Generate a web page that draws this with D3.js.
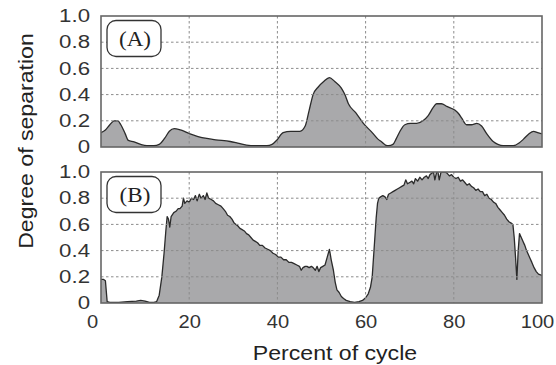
<!DOCTYPE html>
<html>
<head>
<meta charset="utf-8">
<script src="https://cdn.jsdelivr.net/npm/d3@7/dist/d3.min.js"></script>
<style>
  html, body { margin: 0; padding: 0; background: #fff; }
  svg { display: block; }
</style>
</head>
<body>
<svg id="chart" width="556" height="365"></svg>
<script>
// Percent of gait cycle and degree of separation, panel (A)
const cycleA = [0, 1, 2, 3, 3.8, 4.5, 5.5, 6.2, 7.5, 9, 10.4, 12, 13.2, 14.5, 15.5, 16.6, 18, 20.2, 22, 24,
  26, 29.3, 31, 33, 35, 37.6, 38.8, 39.8, 41.3, 43, 45.1, 46.3, 47.2, 48.1, 49.3, 50.5, 51.8, 53, 54.5, 55.3,
  56.1, 57.8, 59.5, 61.5, 62.8, 63.6, 64.5, 65.2, 66.2, 66.9, 67.8, 68.9, 70.2, 71.6, 73, 74.2, 75.3, 76.1, 77.2, 78.4,
  80.3, 81.2, 81.8, 82.9, 84, 85.2, 86.3, 87.5, 89, 90, 91.2, 93.5, 94.8, 95.8, 97, 98.1, 99, 100];
const separationA = [0.11, 0.13, 0.17, 0.20, 0.20, 0.17, 0.10, 0.05, 0.04, 0.02, 0.01, 0.01, 0.02, 0.07, 0.12, 0.14, 0.13, 0.10, 0.08, 0.065,
  0.055, 0.042, 0.03, 0.015, 0.01, 0.01, 0.02, 0.05, 0.11, 0.12, 0.12, 0.16, 0.28, 0.40, 0.46, 0.50, 0.53, 0.50, 0.45, 0.40,
  0.33, 0.26, 0.18, 0.11, 0.06, 0.04, 0.015, 0.01, 0.02, 0.06, 0.12, 0.17, 0.18, 0.18, 0.20, 0.24, 0.30, 0.33, 0.33, 0.31,
  0.28, 0.25, 0.22, 0.17, 0.17, 0.18, 0.16, 0.10, 0.04, 0.02, 0.01, 0.01, 0.03, 0.06, 0.10, 0.12, 0.11, 0.10];

// Panel (B)
const cycleB = [0, 0.6, 1.0, 1.4, 2, 4, 6, 8, 9, 10, 11, 12, 12.6, 13.2, 13.8, 14.3, 14.7, 15.0, 15.3, 15.6,
  15.9, 16.5, 17.0, 17.5, 17.9, 18.4, 18.7, 19.0, 19.5, 20.0, 20.5, 21.0, 21.4, 21.8, 22.3, 22.7, 23.2, 23.6, 24.0, 24.4,
  25.0, 25.5, 26.0, 26.6, 27.2, 27.7, 28.2, 28.7, 29.2, 29.7, 30.2, 30.6, 31.0, 31.5, 32.0, 32.5, 33.0, 33.5, 34.0, 34.5,
  35.0, 35.5, 36.0, 36.6, 37.2, 37.8, 38.4, 39.0, 39.6, 40.2, 40.8, 41.4, 42.0, 42.6, 43.2, 43.8, 44.4, 45.0, 45.4, 45.8,
  46.3, 46.7, 47.2, 47.7, 48.1, 48.6, 49.0, 49.4, 49.8, 50.3, 50.8, 51.3, 51.8, 52.2, 52.7, 53.1, 53.5, 54.0, 54.5, 55.0,
  55.6, 56.5, 57.5, 58.5, 59.3, 60.0, 60.6, 61.1, 61.5, 61.8, 62.1, 62.4, 62.7, 63.0, 63.4, 63.9, 64.4, 64.8, 65.2, 65.7,
  66.2, 66.7, 67.2, 67.7, 68.2, 68.7, 69.1, 69.5, 70.0, 70.5, 70.9, 71.3, 71.8, 72.3, 72.8, 73.3, 73.8, 74.2, 74.6, 75.0,
  75.4, 75.7, 76.1, 76.4, 76.7, 77.1, 77.5, 78.0, 78.5, 79.0, 79.5, 80.0, 80.5, 81.0, 81.5, 82.0, 82.5, 83.0, 83.5, 84.0,
  84.5, 85.0, 85.5, 86.0, 86.5, 87.0, 87.5, 88.0, 88.5, 89.0, 89.5, 90.0, 90.5, 91.0, 91.5, 92.0, 92.5, 93.0, 93.4, 93.7,
  94.0, 94.3, 94.6, 94.9, 95.3, 95.7, 96.1, 96.5, 96.9, 97.3, 97.7, 98.2, 98.7, 99.2, 100];
const separationB = [0.18, 0.18, 0.17, 0.01, 0.005, 0.005, 0.01, 0.015, 0.02, 0.015, 0.005, 0.005, 0.01, 0.06, 0.20, 0.38, 0.55, 0.66, 0.64, 0.58,
  0.66, 0.69, 0.70, 0.72, 0.72, 0.74, 0.80, 0.76, 0.78, 0.77, 0.80, 0.79, 0.82, 0.78, 0.83, 0.80, 0.82, 0.79, 0.84, 0.80,
  0.79, 0.78, 0.76, 0.75, 0.74, 0.72, 0.70, 0.67, 0.66, 0.64, 0.61, 0.60, 0.59, 0.57, 0.56, 0.55, 0.53, 0.52, 0.50, 0.48,
  0.47, 0.46, 0.44, 0.44, 0.42, 0.41, 0.40, 0.38, 0.37, 0.35, 0.35, 0.33, 0.33, 0.31, 0.31, 0.30, 0.29, 0.28, 0.25, 0.27,
  0.28, 0.28, 0.27, 0.28, 0.27, 0.25, 0.28, 0.24, 0.27, 0.28, 0.29, 0.35, 0.41, 0.33, 0.25, 0.16, 0.10, 0.08, 0.05, 0.035,
  0.02, 0.01, 0.005, 0.01, 0.02, 0.04, 0.07, 0.12, 0.20, 0.35, 0.50, 0.65, 0.76, 0.80, 0.81, 0.82, 0.81, 0.79, 0.83, 0.84,
  0.85, 0.86, 0.87, 0.88, 0.89, 0.90, 0.94, 0.91, 0.92, 0.93, 0.91, 0.95, 0.93, 0.96, 0.94, 0.96, 0.97, 0.95, 0.98, 0.99,
  1.00, 0.94, 1.00, 1.00, 0.94, 1.00, 1.00, 1.00, 0.99, 0.97, 0.98, 0.96, 0.95, 0.96, 0.93, 0.94, 0.92, 0.90, 0.91, 0.89,
  0.88, 0.86, 0.87, 0.85, 0.85, 0.82, 0.83, 0.80, 0.79, 0.77, 0.76, 0.73, 0.71, 0.69, 0.67, 0.64, 0.62, 0.61, 0.60, 0.50,
  0.35, 0.18, 0.40, 0.53, 0.50, 0.47, 0.44, 0.40, 0.37, 0.34, 0.31, 0.27, 0.24, 0.22, 0.21];

const panelLabels = ["(A)", "(B)"];
const xTicks = [0, 20, 40, 60, 80, 100];
const yTicks = [0, 0.2, 0.4, 0.6, 0.8, 1.0];
const xGrid = [20, 40, 60, 80];
const yGrid = [0.2, 0.4, 0.6, 0.8];
const xTitle = "Percent of cycle";
const yTitle = "Degree of separation";

const svg = d3.select("#chart");
const sansFont = "'Liberation Sans', Arial, Helvetica, sans-serif";
const serifFont = "'Liberation Serif', 'Times New Roman', serif";
const yTickStretch = 1.27;
const xTickStretch = 1.15;

const x = d3.scaleLinear().domain([0, 100]).range([101, 542]);
const panels = [
  { label: panelLabels[0], cycle: cycleA, sep: separationA, top: 16, bottom: 147, curve: d3.curveMonotoneX },
  { label: panelLabels[1], cycle: cycleB, sep: separationB, top: 172, bottom: 303, curve: d3.curveLinear }
];

panels.forEach((p, i) => {
  const y = d3.scaleLinear().domain([0, 1]).range([p.bottom, p.top]);
  const g = svg.append("g");
  const pts = p.cycle.map((c, k) => [c, p.sep[k]]);

  const clipId = "clip" + i;
  g.append("clipPath").attr("id", clipId)
    .append("rect")
    .attr("x", x(0)).attr("y", y(1))
    .attr("width", x(100) - x(0)).attr("height", y(0) - y(1));

  const plot = g.append("g").attr("clip-path", `url(#${clipId})`);

  // shaded area under the separation curve
  plot.append("path")
    .datum(pts)
    .attr("fill", "#a9a9ab")
    .attr("d", d3.area().x(d => x(d[0])).y0(y(0)).y1(d => y(d[1])).curve(p.curve));

  plot.append("path")
    .datum(pts)
    .attr("fill", "none")
    .attr("stroke", "#2b2b2b")
    .attr("stroke-width", 1.3)
    .attr("stroke-linejoin", "round")
    .attr("d", d3.line().x(d => x(d[0])).y(d => y(d[1])).curve(p.curve));

  // dashed grid drawn over the fill
  const grid = g.append("g")
    .attr("stroke", "#8c8c8c")
    .attr("stroke-width", 1)
    .attr("stroke-dasharray", "2.5,2.5");
  grid.selectAll("line.v").data(xGrid).join("line")
    .attr("class", "v")
    .attr("x1", d => x(d)).attr("x2", d => x(d))
    .attr("y1", y(1)).attr("y2", y(0));
  grid.selectAll("line.h").data(yGrid).join("line")
    .attr("class", "h")
    .attr("x1", x(0)).attr("x2", x(100))
    .attr("y1", d => y(d)).attr("y2", d => y(d));

  // frame
  g.append("rect")
    .attr("x", x(0)).attr("y", y(1))
    .attr("width", x(100) - x(0)).attr("height", y(0) - y(1))
    .attr("fill", "none")
    .attr("stroke", "#666")
    .attr("stroke-width", 1.6);

  // panel label box
  const lb = g.append("g").attr("transform", `translate(${x(0) + 6},${y(1) + 4.5})`);
  lb.append("rect")
    .attr("width", 54).attr("height", 36)
    .attr("rx", 9).attr("ry", 9)
    .attr("fill", "#fff")
    .attr("stroke", "#333")
    .attr("stroke-width", 1.3);
  lb.append("text")
    .attr("transform", "translate(28,25.5) scale(1.1,1)")
    .attr("text-anchor", "middle")
    .attr("font-family", serifFont)
    .attr("font-size", 21)
    .attr("fill", "#222")
    .text(p.label);

  // y axis
  const yAxis = g.append("g")
    .attr("transform", `translate(${x(0)},0)`)
    .call(d3.axisLeft(y).tickValues(yTicks).tickSize(0).tickPadding(11)
      .tickFormat(d => d === 0 ? "0" : d3.format(".1f")(d)));
  yAxis.select(".domain").remove();
  yAxis.selectAll("text")
    .attr("font-family", sansFont)
    .attr("font-size", 17.5)
    .attr("fill", "#333")
    .attr("x", -11 / yTickStretch)
    .attr("transform", `scale(${yTickStretch},1)`);

  if (i === 1) {
    const xAxis = g.append("g")
      .attr("transform", `translate(0,${y(0)})`)
      .call(d3.axisBottom(x).tickValues(xTicks).tickSize(0).tickPadding(13));
    xAxis.select(".domain").remove();
    // end labels sit slightly inside the tick so they stay within the figure
    xAxis.selectAll("text")
      .attr("font-family", sansFont)
      .attr("font-size", 17.5)
      .attr("fill", "#333")
      .attr("x", d => (d === 0 ? -9 : d === 100 ? -5 : 0) / xTickStretch)
      .attr("transform", `scale(${xTickStretch},1)`);
  }
});

// axis titles
svg.append("text")
  .attr("transform", "translate(335,360) scale(1.1,1)")
  .attr("text-anchor", "middle")
  .attr("font-family", sansFont)
  .attr("font-size", 21)
  .attr("fill", "#222")
  .text(xTitle);

svg.append("text")
  .attr("transform", "translate(33,141) rotate(-90) scale(1.1,1)")
  .attr("text-anchor", "middle")
  .attr("font-family", sansFont)
  .attr("font-size", 21)
  .attr("fill", "#222")
  .text(yTitle);
</script>
</body>
</html>
